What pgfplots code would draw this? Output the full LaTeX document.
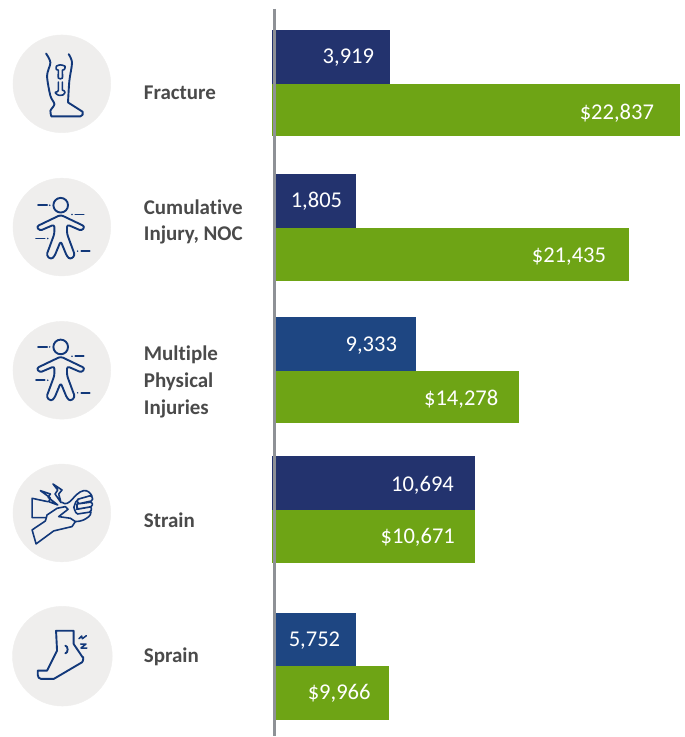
\documentclass[border=0pt]{standalone}
\usepackage{fontspec}
\setmainfont{Carlito}[Ligatures=NoCommon]
\usepackage{pgfplots}
\pgfplotsset{compat=1.18}

\definecolor{navy}{HTML}{23336E}
\definecolor{midblue}{HTML}{1E4682}
\definecolor{barg}{HTML}{6EA415}
\definecolor{rule}{HTML}{8E9196}
\definecolor{disc}{HTML}{EFEEED}
\definecolor{lab}{HTML}{4A4A4A}
\definecolor{icon}{HTML}{12387A}

% one bar: colour, left, right, top, bottom (picture pixels)
\newcommand{\barbox}[5]{\addplot[fill=#1, draw=none] coordinates {(#2,#4) (#3,#4) (#3,#5) (#2,#5)} -- cycle;}
\newcommand{\valtext}[3]{\node[anchor=base east, text=white, inner sep=0pt, font=\fontsize{22.6}{25}\selectfont] at (axis cs:#1,#2) {#3};}
\newcommand{\cattext}[3]{\node[anchor=base west, text=lab, inner sep=0pt, font=\fontsize{21}{23}\selectfont\bfseries] at (axis cs:#1,#2) {#3};}

\begin{document}
\begin{tikzpicture}
\begin{axis}[
    scale only axis,
    width=686pt, height=737pt,
    xmin=-1, xmax=685, ymin=-1, ymax=736,
    y dir=reverse,
    hide axis,
    clip=false
]
    % keeps the page at the full axis size, hide axis does not
    \path (axis cs:-1,-1) rectangle (axis cs:685,736);

    % discs behind the icons
    \addplot[only marks, mark=*, mark size=49pt, mark options={fill=disc, draw=disc}] coordinates {
        (61,83) (61,226.5) (61,370) (61,513)
    };
    \addplot[only marks, mark=*, mark size=50pt, mark options={fill=disc, draw=disc}] coordinates {(61.5,656.5)};

    % bar lengths as drawn, they do not follow the printed numbers
    \barbox{navy}{272}{390}{29.5}{83.5}
    \barbox{barg}{272}{680}{83.5}{135.5}
    \barbox{navy}{274}{356}{173.5}{227.5}
    \barbox{barg}{274}{629}{227.5}{281}
    \barbox{midblue}{274}{416}{317}{370.5}
    \barbox{barg}{274}{519}{370.5}{423}
    \barbox{navy}{272}{475}{456}{510}
    \barbox{barg}{272}{475}{510}{563}
    \barbox{midblue}{274}{356}{613}{667}
    \barbox{barg}{274}{389}{666}{720}

    % vertical rule
    \addplot[rule, line width=3pt] coordinates {(274,8) (274,736)};

    \valtext{374}{63}{3,919}
    \valtext{654.5}{119}{\$22,837}
    \valtext{342}{207}{1,805}
    \valtext{606.5}{262}{\$21,435}
    \valtext{397}{351}{9,333}
    \valtext{498.5}{405}{\$14,278}
    \valtext{454}{491}{10,694}
    \valtext{455}{544}{\$10,671}
    \valtext{340}{647}{5,752}
    \valtext{370.5}{700}{\$9,966}

    \cattext{143}{98.5}{Fracture}
    \cattext{143}{213.5}{Cumulative}
    \cattext{143}{240}{Injury, NOC}
    \cattext{143}{360}{Multiple}
    \cattext{143}{387}{Physical}
    \cattext{143}{414}{Injuries}
    \cattext{143}{528}{Strain}
    \cattext{143}{663}{Sprain}

    \coordinate (O) at (axis cs:0,0);
\end{axis}

\tikzset{ic/.style={draw=icon, line width=1.9pt, line join=round, line cap=round}}

% leg
\begin{scope}[shift={(O)}, shift={(29.5pt,-40pt)}, x=0.3333pt, y=-0.3333pt]
    \draw[ic] plot[smooth, tension=.5] coordinates {(47,38) (60,65) (50,105) (60,165) (72,190) (60,210) (63,227)}
        -- (150,227) to[out=0,in=-60] (157,213) -- (113,185)
        -- plot[smooth, tension=.5] coordinates {(113,185) (117,120) (125,65) (115,40)};
    \draw[ic, line width=1.6pt] plot[smooth cycle, tension=.4] coordinates {(78,76) (90,72) (104,76) (102,86) (96,88) (96,112) (84,112) (84,88) (78,86)};
    \draw[ic, line width=1.6pt] (84,124) -- (84,148) to[out=-90,in=0] (76,154) to[out=180,in=180] (88,164) to[out=0,in=-90] (104,155) to[out=90,in=0] (96,148) -- (96,124);
\end{scope}

% body figure, drawn twice
\newcommand{\bodyicon}[1]{
\begin{scope}[shift={(O)}, shift={(-0.5pt,-#1)}, x=0.3333pt, y=-0.3333pt]
    \draw[ic] (181,614) circle[radius=22];
    \draw[ic, rounded corners=2.5pt] (181,643) -- (108,678) -- (118,691) -- (162,672) -- (162,700) -- (138,765) -- (152,777) -- (162,768) -- (181,722)
        -- (200,768) -- (210,777) -- (224,765) -- (200,700) -- (200,672) -- (244,691) -- (254,678) -- cycle;
    \draw[ic] (113,614) -- (140,614) (225,642) -- (250,642) (107,714) -- (133,714) (243,752) -- (268,752);
    \fill[icon] (148,614) circle[radius=2.5] (215,642) circle[radius=2.5] (142,714) circle[radius=2.5] (232,752) circle[radius=2.5];
\end{scope}}
\bodyicon{0pt}
\bodyicon{142pt}

% hand
\begin{scope}[shift={(O)}, shift={(19.5pt,-470pt)}, x=0.3333pt, y=-0.3333pt]
    \draw[ic, line width=1.6pt] (82,95) -- (35,85) -- (35,143) -- (76,143);
    \draw[ic, line width=1.6pt] (60,62) -- (90,72) -- (83,82) -- (112,105) -- (85,95) -- (90,84) -- cycle;
    \draw[ic, line width=1.6pt] (98,42) -- (125,60) -- (115,72) -- (122,98) -- (104,72) -- (112,60) -- cycle;
    \draw[ic, line width=1.6pt] (35,180) -- (75,153) -- (80,135) -- (110,115) -- (135,110) -- (143,118) -- (115,140) -- (150,145) -- (165,155) -- (155,170) -- (100,183) -- (47,222) -- cycle;
    \draw[ic, line width=1.6pt] (125,97) to[out=-40,in=190] (190,62) to[out=10,in=120] (215,78);
    \draw[ic, line width=1.6pt, rounded corners=1.6pt] (172,88) -- (214,76) -- (218,92) -- (172,102) -- (172,88)
        (170,102) -- (216,96) -- (216,110) -- (170,118) -- (170,102)
        (168,118) -- (214,110) -- (212,126) -- (172,132);
    \draw[ic, line width=1.6pt] (160,112) to[out=-90,in=200] (172,90) (160,112) to[out=90,in=180] (172,132) (212,126) to[out=-90,in=30] (190,150) to[out=210,in=10] (165,155);
\end{scope}

% foot
\begin{scope}[shift={(O)}, shift={(19.5pt,-616pt)}, x=0.3333pt, y=-0.3333pt]
    \draw[ic] (107,45) -- (160,45) -- (160,85) -- (187,125) to[out=60,in=40] (185,140) -- (100,190) -- (62,190) to[out=180,in=-90] (52,178) -- (52,165) -- (80,165) -- (110,105) -- cycle;
    \draw[ic] (135,90) to[out=0,in=0] (135,113);
    \draw[ic, line width=1.5pt] (176,69) -- (184,61) -- (186,69) -- (198,60) (181,85) -- (197,85) -- (182,97) -- (200,97);
\end{scope}
\end{tikzpicture}
\end{document}
